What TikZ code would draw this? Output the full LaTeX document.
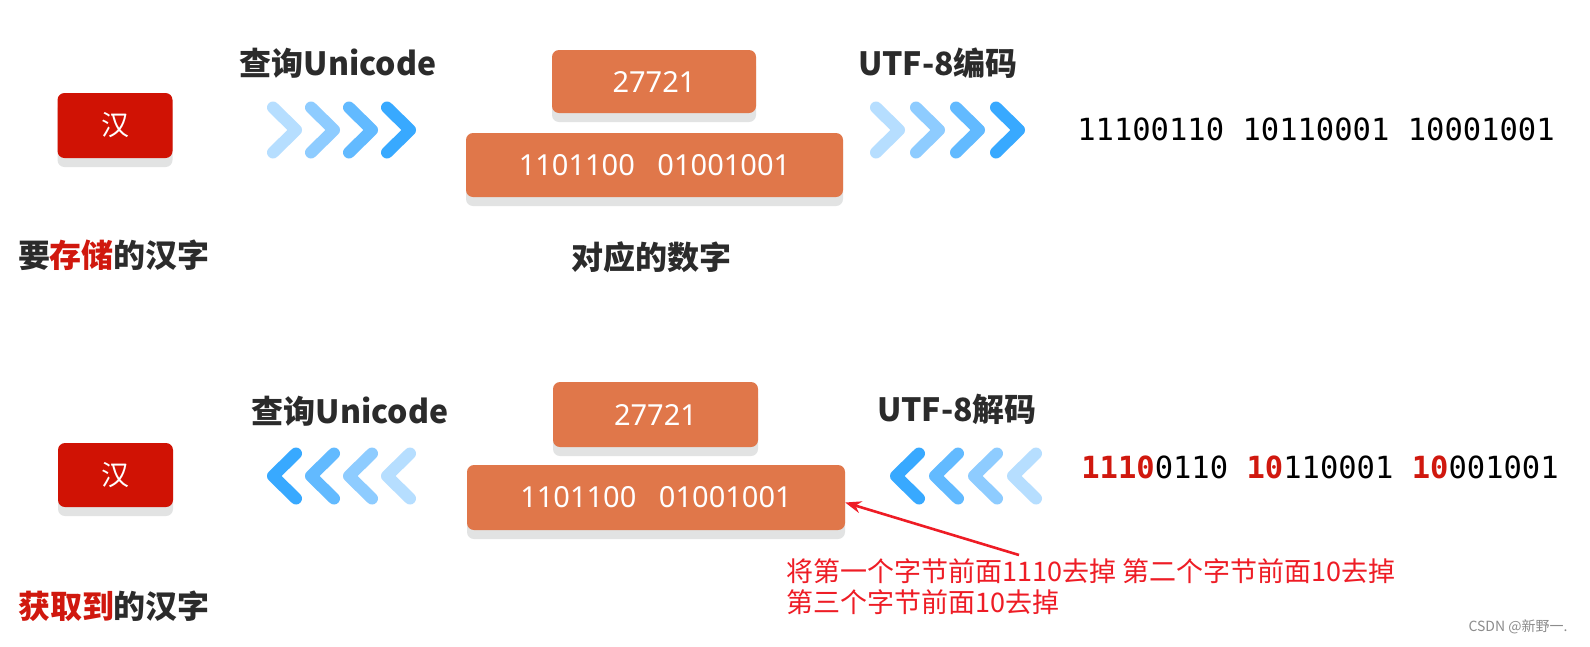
\documentclass[tikz,border=0pt]{standalone}
\usepackage{fontspec}
\setmainfont{Noto Sans}
\newfontfamily\cjk{Noto Sans CJK SC}
\newfontfamily\mono{DejaVu Sans Mono}
\usetikzlibrary{shadows,arrows.meta}
\definecolor{hanred}{HTML}{D01204}
\definecolor{boxorange}{HTML}{E0774A}
\definecolor{shgray}{HTML}{E2E3E3}
\definecolor{dark}{HTML}{2B2B2B}
\definecolor{lblred}{HTML}{D0180E}
\definecolor{annred}{HTML}{EE1C25}
\definecolor{chA}{HTML}{B6DEFF}
\definecolor{chB}{HTML}{8ECCFF}
\definecolor{chC}{HTML}{62BAFF}
\definecolor{chD}{HTML}{38A9FF}
\tikzset{
  card/.style={rounded corners=7pt, draw=none, text=white, inner sep=0pt,
    general shadow={fill=shgray, shadow yshift=-9pt}},
  hanbox/.style={card, fill=hanred, minimum width=115pt, minimum height=65pt,
    font=\cjk\fontsize{28}{30}\selectfont},
  numbox/.style={card, fill=boxorange, font=\fontsize{29}{32}\selectfont},
  title/.style={font=\cjk\bfseries\fontsize{32}{34}\selectfont, text=dark, inner sep=0pt},
  bits/.style={font=\mono\fontsize{30.5}{32}\selectfont, text=black, inner sep=0pt},
  chev/.style={line width=12pt, line cap=round, line join=round},
  chevr/.pic={\draw[chev,#1] (0,-22.5)--(23,0)--(0,22.5);},
  chevl/.pic={\draw[chev,#1] (23,-22.5)--(0,0)--(23,22.5);},
  note/.style={font=\cjk\fontsize{27}{31}\selectfont, text=annred, align=left, inner sep=0pt},
  wmark/.style={font=\cjk\fontsize{14}{16}\selectfont, text=black!45, inner sep=0pt},
  annarrow/.style={annred, line width=2.6pt, -{Stealth[length=16pt,width=12pt]}}
}
\begin{document}
\begin{tikzpicture}[x=1pt,y=-1pt]
\useasboundingbox (0,0) rectangle (1590,646);
\fill[white] (0,0) rectangle (1590,646);

% ---------- top row ----------
\node[hanbox] (han1) at (115,125.5) {汉};
\node[title] (t1) at (338,63) {查询Unicode};
\node[title] (cap1) at (114,255) {要\textcolor{lblred}{存储}的汉字};
\foreach \x/\c in {273/chA,311/chB,349/chC,387/chD}
  \pic at (\x,130) {chevr=\c};
\node[numbox, minimum width=204pt, minimum height=63pt] (n1) at (654,81.5) {27721};
\node[numbox, minimum width=377pt, minimum height=64pt] (n2) at (654.5,165) {1101100\ \ \ 01001001};
\node[title] (cap2) at (651,257) {对应的数字};
\node[title] (t2) at (938,63) {UTF-8编码};
\foreach \x/\c in {876/chA,916/chB,956/chC,996/chD}
  \pic at (\x,130) {chevr=\c};
\node[bits] (b1) at (1316,129) {11100110 10110001 10001001};

% ---------- bottom row ----------
\node[hanbox, minimum height=64pt] (han2) at (115.5,475) {汉};
\node[title] (t3) at (350,411) {查询Unicode};
\node[title] (cap3) at (114,606) {\textcolor{lblred}{获取到}的汉字};
\foreach \x/\c in {273/chD,311/chC,349/chB,387/chA}
  \pic at (\x,476) {chevl=\c};
\node[numbox, minimum width=205pt, minimum height=65pt] (n3) at (655.5,414.5) {27721};
\node[numbox, minimum width=378pt, minimum height=65pt] (n4) at (656,497.5) {1101100\ \ \ 01001001};
\node[title] (t4) at (957,409) {UTF-8解码};
\foreach \x/\c in {896/chD,935/chC,974/chB,1013/chA}
  \pic at (\x,476) {chevl=\c};
\node[bits] (b2) at (1320,467) {\textcolor{lblred}{\bfseries 1110}0110 \textcolor{lblred}{\bfseries 10}110001 \textcolor{lblred}{\bfseries 10}001001};

% ---------- annotation ----------
\node[note, anchor=north west] (note) at (786,558)
  {将第一个字节前面1110去掉 第二个字节前面10去掉\\第三个字节前面10去掉};
\coordinate (tail) at (1019,555);
\draw[annarrow] (tail) -- ([yshift=-5pt]n4.east);

\node[wmark] (wm) at (1518,627) {CSDN @新野一.};
\end{tikzpicture}
\end{document}
